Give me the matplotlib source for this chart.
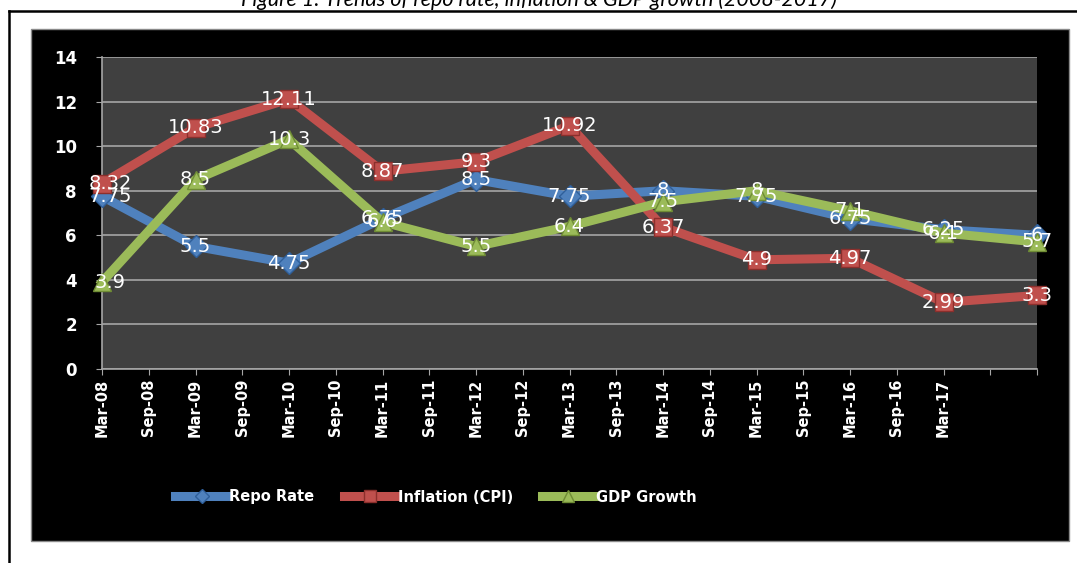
import matplotlib.pyplot as plt
from matplotlib.patches import Rectangle
from matplotlib.lines import Line2D

# half-year periods on the date axis
periods = ['Mar-08', 'Sep-08', 'Mar-09', 'Sep-09', 'Mar-10', 'Sep-10', 'Mar-11',
           'Sep-11', 'Mar-12', 'Sep-12', 'Mar-13', 'Sep-13', 'Mar-14', 'Sep-14',
           'Mar-15', 'Sep-15', 'Mar-16', 'Sep-16', 'Mar-17', 'Sep-17', 'Mar-18']
shown_labels = periods[:19]

# yearly observations
points = ['Mar-08', 'Mar-09', 'Mar-10', 'Mar-11', 'Mar-12', 'Mar-13',
          'Mar-14', 'Mar-15', 'Mar-16', 'Mar-17', 'Mar-18']
repo = [7.75, 5.5, 4.75, 6.75, 8.5, 7.75, 8, 7.75, 6.75, 6.25, 6]
cpi = [8.32, 10.83, 12.11, 8.87, 9.3, 10.92, 6.37, 4.9, 4.97, 2.99, 3.3]
gdp = [3.9, 8.5, 10.3, 6.6, 5.5, 6.4, 7.5, 8, 7.1, 6.1, 5.7]

series = [
    ('Repo Rate', repo, '#4F81BD', '#2f5f9a', 'D', 11),
    ('Inflation (CPI)', cpi, '#C0504D', '#8c2f2c', 's', 13),
    ('GDP Growth', gdp, '#9BBB59', '#6f8c35', '^', 13),
]

x = [periods.index(p) for p in points]

fig = plt.figure(figsize=(10.77, 5.63), dpi=100)
fig.patch.set_facecolor('white')

# caption, partly cut off at the top
fig.text(0.5, 1 - 6 / 563, 'Figure 1: Trends of repo rate, inflation & GDP growth (2008-2017)',
         ha='center', va='baseline', fontsize=15.5, style='italic', family='Lato')

# outer frame (top and left edges visible)
fig.add_artist(Line2D([9 / 1077, 1.0], [1 - 11 / 563, 1 - 11 / 563], color='black',
                      lw=1.8, zorder=-20))
fig.add_artist(Line2D([9 / 1077, 9 / 1077], [0, 1 - 11 / 563], color='black',
                      lw=1.8, zorder=-20))

# black chart area
fig.add_artist(Rectangle((31 / 1077, 1 - 541 / 563), (1069 - 31) / 1077, (541 - 29) / 563,
                         transform=fig.transFigure, facecolor='black',
                         edgecolor='#8a8a8a', lw=1, zorder=-10))

ax = fig.add_axes([102 / 1077, 1 - 369 / 563, (1037 - 102) / 1077, (369 - 57) / 563])
ax.set_facecolor('#404040')

for i, (name, vals, col, edge, mk, ms) in enumerate(series):
    ax.plot(x, vals, color=col, lw=6.5, marker=mk, markersize=ms,
            markerfacecolor=col, markeredgecolor=edge, markeredgewidth=1,
            label=name, zorder=3 + i, clip_on=False, solid_joinstyle='round')

for name, vals, col, edge, mk, ms in series:
    for j, (xi, v) in enumerate(zip(x, vals)):
        dx = 6 if j == 0 else 0
        ax.annotate('{:g}'.format(v), (xi, v), xytext=(dx, 0), textcoords='offset points',
                    ha='center', va='center', color='white', fontsize=14, zorder=10)

ax.set_xlim(0, 20)
ax.set_ylim(0, 14)
ax.set_yticks(range(0, 15, 2))
ax.set_xticks(range(len(periods)))
ax.set_xticklabels(shown_labels + [''] * (len(periods) - len(shown_labels)),
                   rotation=90, fontsize=10.5, fontweight='bold')
ax.tick_params(axis='y', colors='#a6a6a6', labelcolor='white', labelsize=12,
               length=4, pad=14)
ax.tick_params(axis='x', colors='#a6a6a6', labelcolor='white', length=4, pad=3)
for lab in ax.get_yticklabels():
    lab.set_fontweight('bold')

ax.grid(axis='y', color='#a6a6a6', lw=1.2)
ax.set_axisbelow(True)
for s in ['top', 'right']:
    ax.spines[s].set_visible(False)
for s in ['left', 'bottom']:
    ax.spines[s].set_color('#a6a6a6')
    ax.spines[s].set_linewidth(1.2)

leg = ax.legend(loc='center', bbox_to_anchor=(436 / 1077, 1 - 497 / 563),
                bbox_transform=fig.transFigure, ncol=3, frameon=False,
                handlelength=3.6, handletextpad=0.1, columnspacing=2.0,
                markerscale=0.65, prop={'weight': 'bold', 'size': 10.5})
for t in leg.get_texts():
    t.set_color('white')

fig.savefig('out.png', dpi=100)
